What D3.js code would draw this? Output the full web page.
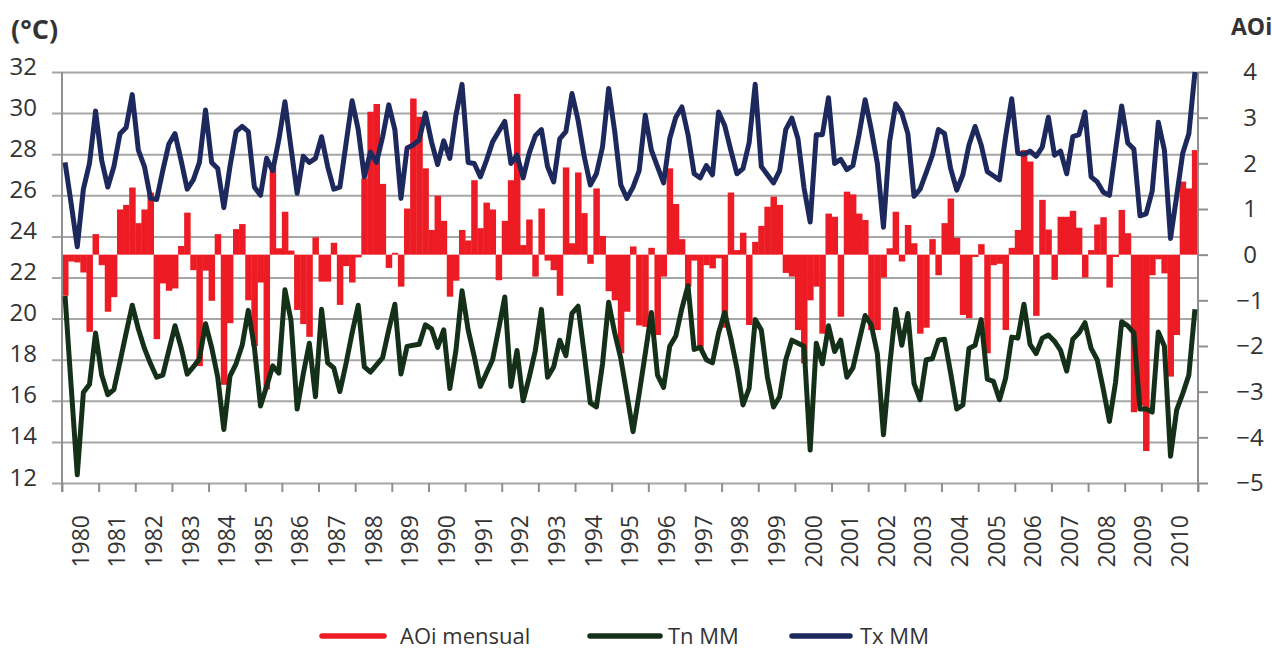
<!DOCTYPE html>
<html>
<head>
<meta charset="utf-8">
<script src="https://cdn.jsdelivr.net/npm/d3@7"></script>
<style>
  body { margin: 0; background: #fff; }
  svg text { font-family: "Open Sans", "Noto Sans", sans-serif; fill: #333; }
</style>
</head>
<body>
<svg width="1272" height="650"></svg>
<script>
// years on the x axis (6 values per year)
const years = [1980, 1981, 1982, 1983, 1984, 1985, 1986, 1987, 1988, 1989, 1990,
  1991, 1992, 1993, 1994, 1995, 1996, 1997, 1998, 1999, 2000,
  2001, 2002, 2003, 2004, 2005, 2006, 2007, 2008, 2009, 2010];
const tempTicks = [12, 14, 16, 18, 20, 22, 24, 26, 28, 30, 32];
const aoiTicks = [-5, -4, -3, -2, -1, 0, 1, 2, 3, 4];

// Tx MM (°C), two years per row
const tx = [
  27.6, 25.6, 23.5, 26.3, 27.55, 30.1, 27.7, 26.4, 27.4, 29.0, 29.3, 30.9,
  28.2, 27.4, 25.85, 25.8, 27.2, 28.5, 29.0, 27.7, 26.3, 26.75, 27.6, 30.15,
  27.6, 27.3, 25.4, 27.4, 29.1, 29.35, 29.1, 26.4, 26.0, 27.8, 27.2, 28.7,
  30.55, 28.3, 26.1, 27.9, 27.6, 27.8, 28.85, 27.4, 26.3, 26.4, 28.5, 30.6,
  29.2, 26.9, 28.1, 27.6, 28.85, 30.4, 29.2, 25.85, 28.3, 28.45, 28.7, 30.0,
  28.6, 27.5, 28.65, 27.8, 29.9, 31.4, 27.6, 27.55, 26.9, 27.7, 28.6, 29.1,
  29.6, 27.55, 27.95, 26.85, 28.05, 28.9, 29.2, 27.4, 26.65, 28.75, 29.1, 30.95,
  29.65, 27.9, 26.5, 27.05, 28.35, 31.2, 29.1, 26.5, 25.85, 26.4, 27.2, 29.9,
  28.2, 27.4, 26.6, 28.75, 29.8, 30.3, 28.95, 27.05, 26.85, 27.45, 27.0, 30.05,
  29.4, 28.2, 27.05, 27.3, 28.55, 31.4, 27.4, 27.0, 26.6, 27.2, 29.2, 29.75,
  28.75, 26.35, 24.7, 28.95, 28.95, 30.75, 27.55, 27.75, 27.25, 27.45, 28.95, 30.65,
  29.2, 27.55, 24.45, 28.6, 30.45, 30.0, 29.0, 25.95, 26.3, 27.1, 27.95, 29.2,
  29.0, 27.3, 26.25, 27.0, 28.45, 29.35, 28.45, 27.15, 26.95, 26.75, 28.85, 30.7,
  28.05, 28.0, 28.15, 27.9, 28.35, 29.8, 27.95, 28.15, 27.05, 28.85, 28.95, 30.05,
  26.9, 26.65, 26.15, 26.0, 28.2, 30.35, 28.55, 28.25, 25.0, 25.1, 26.2, 29.55,
  28.2, 23.9, 25.95, 28.05, 29.0, 32.0
];

// Tn MM (°C)
const tn = [
  21.1, 16.7, 12.4, 16.4, 16.8, 19.3, 17.25, 16.3, 16.55, 17.9, 19.3, 20.65,
  19.5, 18.55, 17.8, 17.15, 17.25, 18.45, 19.65, 18.6, 17.3, 17.65, 18.05, 19.75,
  18.6, 17.15, 14.6, 17.2, 17.8, 18.7, 20.4, 18.6, 15.75, 16.7, 17.7, 17.35,
  21.4, 19.9, 15.6, 17.3, 18.8, 16.2, 20.45, 17.85, 17.6, 16.45, 17.8, 19.3,
  20.65, 17.65, 17.4, 17.75, 18.1, 19.45, 20.7, 17.3, 18.65, 18.7, 18.75, 19.7,
  19.5, 18.6, 19.45, 16.6, 18.45, 21.35, 19.45, 18.15, 16.7, 17.35, 18.0, 19.5,
  21.05, 16.7, 18.45, 16.0, 17.15, 18.45, 20.45, 17.15, 17.65, 18.95, 18.2, 20.25,
  20.6, 18.3, 15.9, 15.7, 17.8, 20.8, 19.3, 18.05, 16.3, 14.5, 16.35, 18.3,
  20.3, 17.25, 16.65, 18.65, 19.15, 20.5, 21.6, 18.5, 18.6, 18.0, 17.85, 19.3,
  20.3, 19.05, 17.6, 15.8, 16.6, 19.95, 19.45, 17.15, 15.7, 16.2, 18.0, 18.95,
  18.8, 18.65, 13.6, 18.8, 17.8, 19.65, 18.4, 18.95, 17.15, 17.6, 18.9, 20.15,
  19.7, 18.3, 14.35, 17.65, 20.45, 18.7, 20.25, 16.85, 16.05, 18.0, 18.05, 18.95,
  19.0, 17.35, 15.6, 15.8, 18.55, 18.7, 19.95, 17.05, 16.95, 16.05, 17.1, 19.1,
  19.05, 20.7, 18.75, 18.3, 19.05, 19.2, 18.9, 18.45, 17.45, 19.0, 19.3, 19.8,
  18.55, 18.0, 16.55, 15.0, 16.9, 19.85, 19.65, 19.3, 15.6, 15.6, 15.45, 19.35,
  18.65, 13.3, 15.55, 16.35, 17.25, 20.45
];

// AOi mensual (right axis)
const aoi = [
  -0.9, -0.15, -0.17, -0.39, -1.69, 0.45, -0.23, -1.25, -0.93, 0.99, 1.09, 1.47,
  0.69, 0.99, 1.36, -1.85, -0.63, -0.79, -0.74, 0.19, 0.92, -0.34, -2.44, -0.35,
  -1.01, 0.45, -2.85, -1.5, 0.56, 0.67, -1.0, -2.0, -0.61, -2.95, 1.93, 0.14,
  0.94, 0.09, -1.21, -1.52, -1.8, 0.38, -0.59, -0.59, 0.26, -1.1, -0.25, -0.61,
  -0.06, 1.67, 3.13, 3.3, 1.55, -0.29, 0.04, -0.7, 1.01, 3.42, 3.02, 1.89,
  0.54, 1.29, 0.74, -0.92, -0.57, 0.54, 0.31, 1.63, 0.58, 1.14, 0.99, -0.56,
  0.74, 1.63, 3.52, 0.21, 0.77, -0.48, 1.01, -0.13, -0.34, -0.9, 1.91, 0.25,
  1.8, 0.91, -0.2, 1.45, 0.41, -0.8, -1.0, -2.16, -1.25, 0.18, -1.55, -1.58,
  0.15, -1.76, -0.48, 1.89, 1.11, 0.34, -0.7, -0.13, -2.09, -0.23, -0.3, -0.08,
  -1.6, 1.36, 0.1, 0.48, -1.54, 0.28, 0.63, 1.05, 1.27, 1.09, -0.4, -0.48,
  -1.65, -2.38, -1.0, -0.7, -1.73, 0.9, 0.83, -1.36, 1.38, 1.32, 0.9, 0.76,
  -1.65, -1.65, -0.5, 0.14, 0.94, -0.15, 0.65, 0.25, -1.73, -1.6, 0.34, -0.45,
  0.69, 1.23, 0.37, -1.32, -1.39, -0.05, 0.23, -2.16, -0.23, -0.2, -1.65, 0.15,
  0.54, 2.29, 2.04, -1.34, 1.2, 0.55, -0.55, 0.83, 0.83, 0.96, 0.59, -0.5,
  0.1, 0.66, 0.82, -0.72, -0.05, 0.98, 0.47, -3.45, -3.3, -4.3, -0.45, -0.1,
  -0.41, -2.67, -1.76, 1.6, 1.45, 2.29
];

const legendItems = [
  { label: "AOi mensual", color: "#ed1c24" },
  { label: "Tn MM", color: "#143019" },
  { label: "Tx MM", color: "#1d295c" }
];

const svg = d3.select("svg");
const plotL = 62, plotR = 1198, plotT = 72, plotB = 483;
const gridColor = "#a6a6a6", axisColor = "#8f8f8f";

const x = d3.scaleLinear().domain([0, aoi.length]).range([plotL, plotR]);
const xYear = d3.scaleBand().domain(years).range([plotL, plotR]);
const xEdge = d3.scaleLinear().domain([years[0], years[years.length - 1] + 1]).range([plotL, plotR]);
const yT = d3.scaleLinear().domain([12, 32]).range([plotB, plotT]);
const yA = d3.scaleLinear().domain([-5, 4]).range([plotB, plotT]);

// left axis + horizontal grid
const gLeft = svg.append("g")
    .attr("transform", "translate(52,0)")
    .call(d3.axisLeft(yT).tickValues(tempTicks).tickSize(-(plotR - 52)).tickPadding(15))
    .attr("font-size", null).attr("font-family", null);
gLeft.select(".domain").remove();
gLeft.selectAll(".tick line").attr("stroke", gridColor).attr("stroke-width", 2);
gLeft.selectAll(".tick text").attr("font-size", 24).attr("dy", 2).attr("fill", "#333");

// bars
const bw = x(1) - x(0);
svg.append("g").selectAll("rect")
    .data(aoi)
    .join("rect")
    .attr("x", (d, i) => x(i))
    .attr("width", bw + 0.4)
    .attr("y", d => yA(Math.max(0, d)))
    .attr("height", d => Math.abs(yA(d) - yA(0)))
    .attr("fill", "#ed1c24");

// axis lines
svg.append("line").attr("x1", plotL).attr("x2", plotL).attr("y1", plotT).attr("y2", plotB + 9)
    .attr("stroke", axisColor).attr("stroke-width", 2);
svg.append("line").attr("x1", plotR).attr("x2", plotR).attr("y1", plotT).attr("y2", plotB + 9)
    .attr("stroke", axisColor).attr("stroke-width", 2);

// year ticks at band edges
const gTicks = svg.append("g")
    .attr("transform", `translate(0,${plotB})`)
    .call(d3.axisBottom(xEdge).tickValues(d3.range(years[0], years[years.length - 1] + 2)).tickSize(9).tickFormat(""));
gTicks.select(".domain").remove();
gTicks.selectAll(".tick line").attr("stroke", axisColor).attr("stroke-width", 2);

// year labels centered in each band
svg.append("g").selectAll("text")
    .data(years)
    .join("text")
    .attr("transform", d => `translate(${xYear(d) + xYear.bandwidth() / 2},515) rotate(-90)`)
    .attr("text-anchor", "end")
    .attr("dy", "0.36em")
    .attr("font-size", 23)
    .text(d => d);

// right axis
const gRight = svg.append("g")
    .attr("transform", `translate(${plotR},0)`)
    .call(d3.axisRight(yA).tickValues(aoiTicks).tickSize(10).tickFormat(d3.format("d")))
    .attr("font-size", null).attr("font-family", null);
gRight.select(".domain").remove();
gRight.selectAll(".tick line").attr("stroke", axisColor).attr("stroke-width", 2);
gRight.selectAll(".tick text").attr("x", 52).attr("text-anchor", "middle")
    .attr("font-size", 24).attr("fill", "#333");

// lines
const line = d3.line().x((d, i) => x(i + 0.5)).y(d => yT(d));
svg.append("path").datum(tn).attr("d", line)
    .attr("fill", "none").attr("stroke", "#143019").attr("stroke-width", 5)
    .attr("stroke-linejoin", "round");
svg.append("path").datum(tx).attr("d", line)
    .attr("fill", "none").attr("stroke", "#1d295c").attr("stroke-width", 5)
    .attr("stroke-linejoin", "round");

// axis titles
svg.append("text").attr("x", 11).attr("y", 39)
    .attr("font-size", 27).attr("font-weight", "bold").attr("fill", "#222").text("(°C)");
svg.append("text").attr("x", 1231).attr("y", 35)
    .attr("font-size", 23).attr("font-weight", "bold").attr("fill", "#222").text("AOi");

// legend
const legendX = [322, 590, 792];
const swatchW = [62, 70, 58];
const textX = [78, 78, 68];
const lg = svg.append("g").selectAll("g")
    .data(legendItems)
    .join("g")
    .attr("transform", (d, i) => `translate(${legendX[i]},636)`);
lg.append("line").attr("x1", 0).attr("x2", (d, i) => swatchW[i])
    .attr("stroke", d => d.color).attr("stroke-width", 5.5).attr("stroke-linecap", "round");
lg.append("text").attr("x", (d, i) => textX[i]).attr("dy", "0.35em")
    .attr("font-size", 22).text(d => d.label);
</script>
</body>
</html>
